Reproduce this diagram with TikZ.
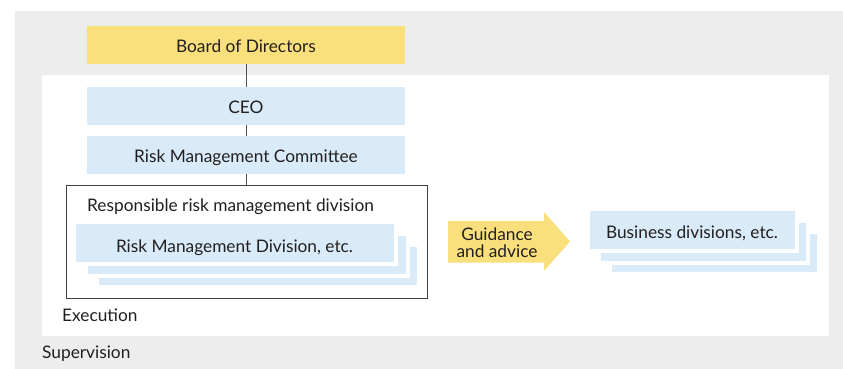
\documentclass[tikz,border=0pt]{standalone}
\usepackage{fontspec}
\setmainfont{Lato}
\usetikzlibrary{shapes.arrows}
\definecolor{supgrey}{HTML}{EDEDED}
\definecolor{boardyel}{HTML}{F9E07C}
\definecolor{lblue}{HTML}{D9EBF8}
\definecolor{txt}{HTML}{231F20}
\tikzset{
  lbl/.style={font=\fontsize{17.3}{20}\selectfont, text=txt, inner sep=0pt, anchor=base},
  conn/.style={draw=txt!80, line width=0.9pt},
  bluebox/.style={fill=lblue},
}
\begin{document}
\begin{tikzpicture}[x=1pt,y=-1pt]
\useasboundingbox (0,0) rectangle (843,369);
% backgrounds
\fill[supgrey] (15,11) rectangle (843,369);
\fill[white] (42,75) rectangle (829,336);
% board
\fill[boardyel] (87,26) rectangle (405,64);
\node[lbl] (board) at (246,52.7) {Board of Directors};
\coordinate (boardB) at (246,64);
% CEO
\fill[bluebox] (87,87) rectangle (405,125);
\node[lbl] (ceo) at (246,113.7) {CEO};
\coordinate (ceoT) at (246,87);
\coordinate (ceoB) at (246,125);
% RMC
\fill[bluebox] (87,136) rectangle (405,174);
\node[lbl] (rmc) at (246,162.3) {Risk Management Committee};
\coordinate (rmcT) at (246,136);
\coordinate (rmcB) at (246,174);
% responsible box
\draw[draw=txt!85, line width=0.9pt] (66,185) rectangle (427,298);
\coordinate (respT) at (246,185);
\node[lbl, anchor=base west] (resp) at (87,211.7) {Responsible risk management division};
% stacked RMD
\fill[bluebox] (99,247) rectangle (417,285);
\fill[white] (88,236) rectangle (410,278);
\fill[bluebox] (88,236) rectangle (406,274);
\fill[white] (76,224) rectangle (398,266);
\fill[bluebox] (76,224) rectangle (394,262);
\node[lbl] (rmd) at (234.5,252) {Risk Management Division, etc.};
% connectors
\draw[conn] (boardB) -- (ceoT);
\draw[conn] (ceoB) -- (rmcT);
\draw[conn] (rmcB) -- (respT);
% arrow
\fill[boardyel] (448,221) -- (544,221) -- (544,212) -- (570,241.5) -- (544,271) -- (544,262.5) -- (448,262.5) -- cycle;
\node[lbl, anchor=center, align=center, font=\fontsize{17.3}{16.7}\selectfont] (guid) at (497,242.5) {Guidance\\and advice};
% business
\fill[bluebox] (612,234) rectangle (817,272);
\fill[white] (601,223) rectangle (810,265);
\fill[bluebox] (601,223) rectangle (806,261);
\fill[white] (590,211) rectangle (799,253);
\fill[bluebox] (590,211) rectangle (795,249);
\node[lbl] (bus) at (692,238.3) {Business divisions, etc.};
% labels
\node[lbl, anchor=base west] (exec) at (62,321) {Execution};
\node[lbl, anchor=base west] (sup) at (42,358) {Supervision};
\end{tikzpicture}
\end{document}
